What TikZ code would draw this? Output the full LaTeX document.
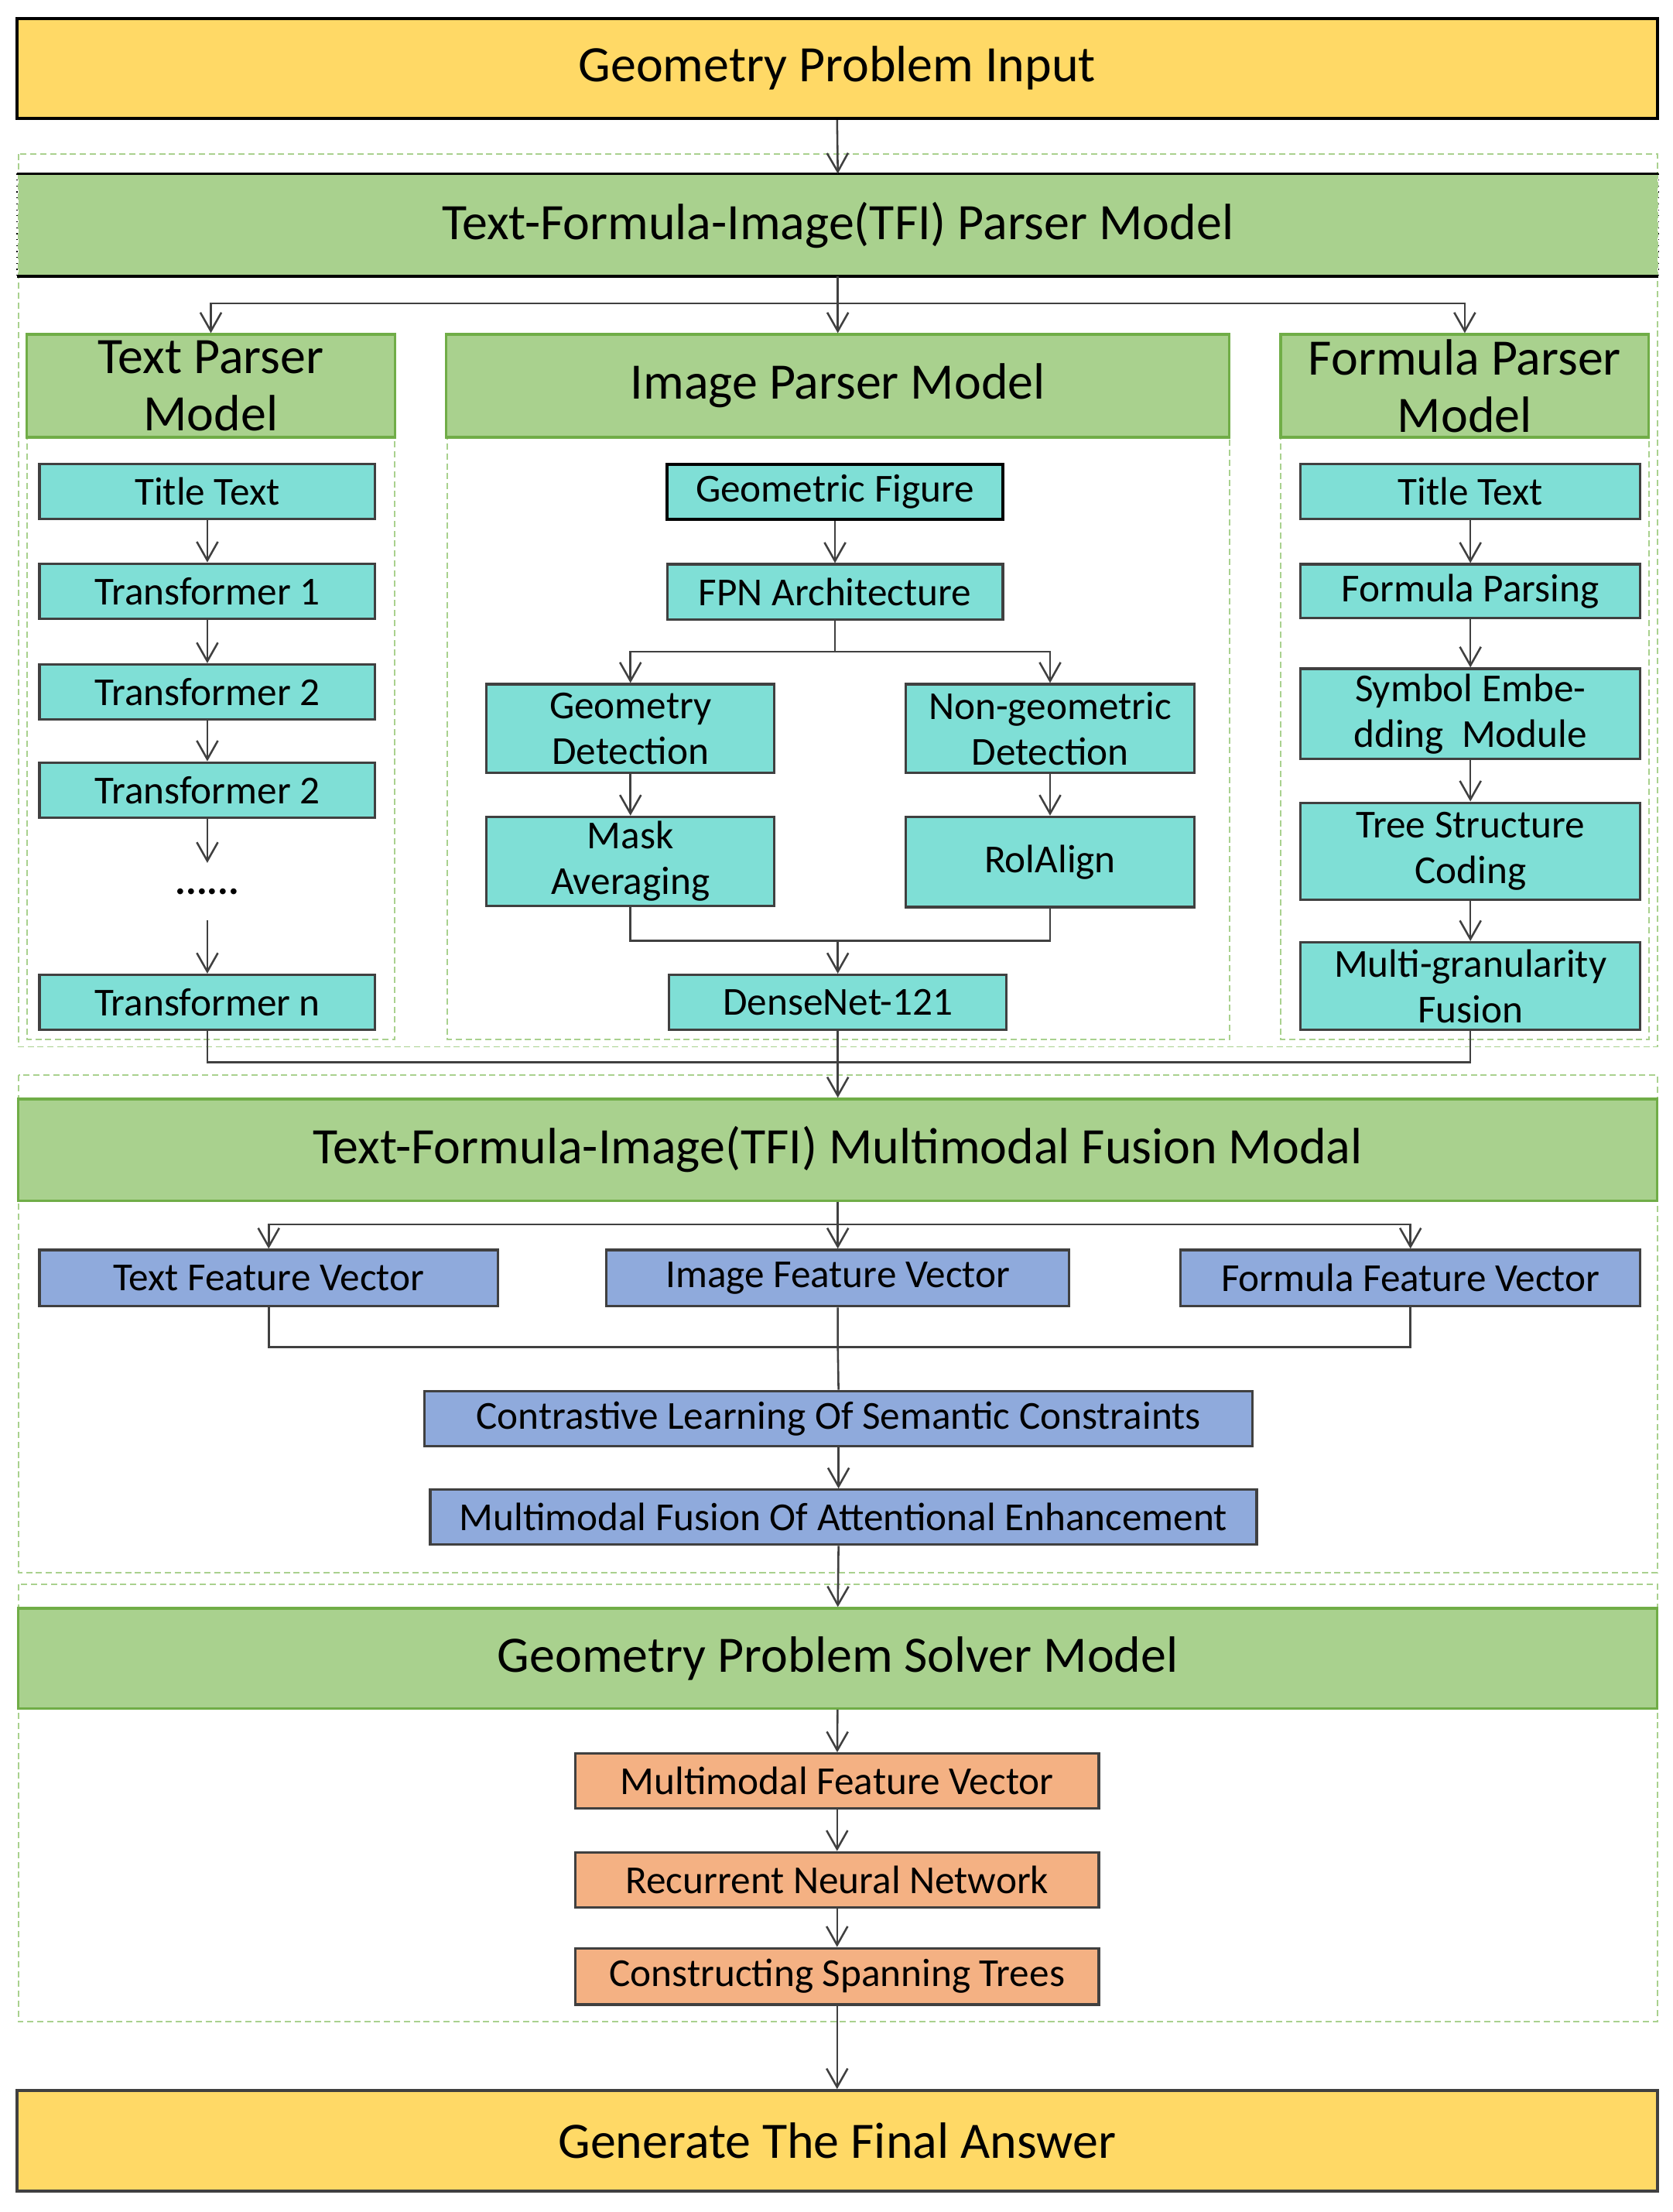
\documentclass[tikz,border=0pt]{standalone}
\usepackage{fontspec}
\setmainfont{Carlito}
\usetikzlibrary{arrows.meta}
\newcommand{\upx}{0.02cm}
\definecolor{ygold}{HTML}{FFD966}
\definecolor{lgreen}{HTML}{A9D18E}
\definecolor{dgreen}{HTML}{70AD47}
\definecolor{lcyan}{HTML}{7FDFD6}
\definecolor{lblue}{HTML}{8FAADC}
\definecolor{lorange}{HTML}{F4B183}
\definecolor{edgegray}{HTML}{404040}
\tikzset{
   bigbox/.style={draw=black,line width=1.3pt,fill=ygold,inner sep=0pt,font=\fontsize{20.6}{24}\selectfont},
   head/.style={draw=dgreen,line width=1pt,fill=lgreen,inner sep=0pt,align=center,font=\fontsize{20.6}{23}\selectfont},
   cbox/.style={draw=edgegray,line width=1pt,fill=lcyan,inner sep=0pt,align=center,font=\fontsize{16}{18.5}\selectfont},
   bbox/.style={cbox,fill=lblue},
   obox/.style={cbox,fill=lorange},
   grp/.style={draw=lgreen,line width=0.6pt,dash pattern=on 2.5pt off 1.5pt},
   ln/.style={draw=edgegray,line width=0.8pt},
   arr/.style={ln,-{Straight Barb[length=7.5pt,width=8.5pt]}}
}

\begin{document}
\begin{tikzpicture}[x=0.02cm,y=-0.02cm]
   \useasboundingbox (0,0) rectangle (1186,1568);
   % group frames
   \draw[grp] (13,109) rectangle (1175,742);
   \draw[grp] (19,237) rectangle (280,737);
   \draw[grp] (317,237) rectangle (872,737);
   \draw[grp] (908,237) rectangle (1169,737);
   \draw[grp] (13,762) rectangle (1175,1115);
   \draw[grp] (13,1123) rectangle (1175,1433);
   % input and parser
   \node[bigbox,minimum width=1163*\upx,minimum height=71*\upx] (inp) at (593.5,48.5) {Geometry Problem Input};
   \node[head,draw=none,minimum width=1162*\upx,minimum height=71*\upx] (tfi) at (594,159.5) {Text-Formula-Image(TFI) Parser Model};
   \draw[black,line width=0.8pt] (tfi.north west) -- (tfi.north east);
   \draw[black,line width=1.3pt] (tfi.south west) -- (tfi.south east);
   \draw[black,dotted] (tfi.north west) -- (tfi.south west) (tfi.north east) -- (tfi.south east);
   \node[head,minimum width=261*\upx,minimum height=73*\upx] (txh) at (149.5,273.5) {Text Parser\\Model};
   \node[head,minimum width=555*\upx,minimum height=73*\upx] (imh) at (594,273.5) {Image Parser Model};
   \node[head,minimum width=261*\upx,minimum height=73*\upx] (fmh) at (1038.5,273.5) {Formula Parser\\Model};
   % text parser
   \node[cbox,minimum width=238*\upx,minimum height=39*\upx] (tt1) at (147,348.5) {Title Text};
   \node[cbox,minimum width=238*\upx,minimum height=39*\upx] (tr1) at (147,419) {Transformer 1};
   \node[cbox,minimum width=238*\upx,minimum height=39*\upx] (tr2) at (147,490.5) {Transformer 2};
   \node[cbox,minimum width=238*\upx,minimum height=39*\upx] (tr3) at (147,560) {Transformer 2};
   \node[inner sep=0pt,minimum width=60*\upx,minimum height=40*\upx,font=\fontsize{16}{18.5}\selectfont\bfseries] (dots) at (147,632) {......};
   \node[cbox,minimum width=238*\upx,minimum height=39*\upx] (trn) at (147,710.5) {Transformer n};
   % image parser
   \node[cbox,draw=black,line width=1.3pt,minimum width=238*\upx,minimum height=39*\upx] (gf) at (592,348.5) {Geometric Figure};
   \node[cbox,minimum width=238*\upx,minimum height=39*\upx] (fpn) at (592,419.5) {FPN Architecture};
   \node[cbox,minimum width=204*\upx,minimum height=63*\upx] (gd) at (447,516.5) {Geometry\\Detection};
   \node[cbox,minimum width=205*\upx,minimum height=63*\upx] (ngd) at (744.5,516.5) {Non-geometric\\Detection};
   \node[cbox,minimum width=204*\upx,minimum height=63*\upx] (ma) at (447,610.5) {Mask\\Averaging};
   \node[cbox,minimum width=205*\upx,minimum height=64*\upx] (ra) at (744.5,611) {RolAlign};
   \node[cbox,minimum width=239*\upx,minimum height=39*\upx] (dn) at (594,710.5) {DenseNet-121};
   % formula parser
   \node[cbox,minimum width=241*\upx,minimum height=39*\upx] (tt2) at (1042.5,348.5) {Title Text};
   \node[cbox,minimum width=241*\upx,minimum height=38*\upx] (fp) at (1042.5,419) {Formula Parsing};
   \node[cbox,minimum width=241*\upx,minimum height=64*\upx] (se) at (1042.5,506) {Symbol Embe-\\dding~ Module};
   \node[cbox,minimum width=241*\upx,minimum height=69*\upx] (ts) at (1042.5,603.5) {Tree Structure\\Coding};
   \node[cbox,minimum width=241*\upx,minimum height=62*\upx] (mg) at (1042.5,699) {Multi-granularity\\Fusion};
   % fusion
   \node[head,minimum width=1162*\upx,minimum height=72*\upx] (fus) at (594,815) {Text-Formula-Image(TFI) Multimodal Fusion Modal};
   \node[bbox,minimum width=325*\upx,minimum height=40*\upx] (tfv) at (190.5,906) {Text Feature Vector};
   \node[bbox,minimum width=328*\upx,minimum height=40*\upx] (ifv) at (594,906) {Image Feature Vector};
   \node[bbox,minimum width=326*\upx,minimum height=40*\upx] (ffv) at (1000,906) {Formula Feature Vector};
   \node[bbox,minimum width=587*\upx,minimum height=39*\upx] (cls) at (594.5,1005.5) {Contrastive Learning Of Semantic Constraints};
   \node[bbox,minimum width=586*\upx,minimum height=39*\upx] (mfa) at (598,1075.5) {Multimodal Fusion Of Attentional Enhancement};
   % solver
   \node[head,minimum width=1162*\upx,minimum height=71*\upx] (sol) at (594,1175.5) {Geometry Problem Solver Model};
   \node[obox,minimum width=371*\upx,minimum height=39*\upx] (mfv) at (593.5,1262.5) {Multimodal Feature Vector};
   \node[obox,minimum width=371*\upx,minimum height=39*\upx] (rnn) at (593.5,1332.5) {Recurrent Neural Network};
   \node[obox,minimum width=371*\upx,minimum height=40*\upx] (cst) at (593.5,1401) {Constructing Spanning Trees};
   \node[bigbox,draw=edgegray,minimum width=1163*\upx,minimum height=71*\upx] (ans) at (593.5,1517.5) {Generate The Final Answer};
   % connectors
   \draw[arr] (inp.south) -- (tfi.north);
   \coordinate (sp1) at (594,215);
   \draw[ln] (tfi.south) -- (sp1);
   \draw[arr] (sp1) -| (txh.north);
   \draw[arr] (sp1) -- (imh.north);
   \draw[arr] (sp1) -| (fmh.north);
   \foreach \a/\b in {tt1/tr1,tr1/tr2,tr2/tr3,tr3/dots,dots/trn,gf/fpn,gd/ma,ngd/ra,
                      tt2/fp,fp/se,se/ts,ts/mg,sol/mfv,mfv/rnn,rnn/cst,cst/ans}
      \draw[arr] (\a) -- (\b);
   \coordinate (sp2) at (592,462);
   \draw[ln] (fpn.south) -- (sp2);
   \draw[arr] (sp2) -| (gd.north);
   \draw[arr] (sp2) -| (ngd.north);
   \coordinate (jn1) at (594,667);
   \draw[ln] (ma.south) |- (jn1);
   \draw[ln] (ra.south) |- (jn1);
   \draw[arr] (jn1) -- (dn.north);
   \coordinate (jn2) at (594,753);
   \draw[ln] (trn.south) |- (jn2);
   \draw[ln] (mg.south) |- (jn2);
   \draw[ln] (dn.south) -- (jn2);
   \draw[arr] (jn2) -- (fus.north);
   \coordinate (sp3) at (594,868);
   \draw[ln] (fus.south) -- (sp3);
   \draw[arr] (sp3) -| (tfv.north);
   \draw[arr] (sp3) -- (ifv.north);
   \draw[arr] (sp3) -| (ffv.north);
   \coordinate (jn3) at (594,955);
   \draw[ln] (tfv.south) |- (jn3);
   \draw[ln] (ffv.south) |- (jn3);
   \draw[ln] (ifv.south) -- (jn3) -- (cls.north);
   \draw[arr] (cls.south) -- (cls.south |- mfa.north);
   \draw[arr] (cls.south |- mfa.south) -- (sol.north);
\end{tikzpicture}
\end{document}
